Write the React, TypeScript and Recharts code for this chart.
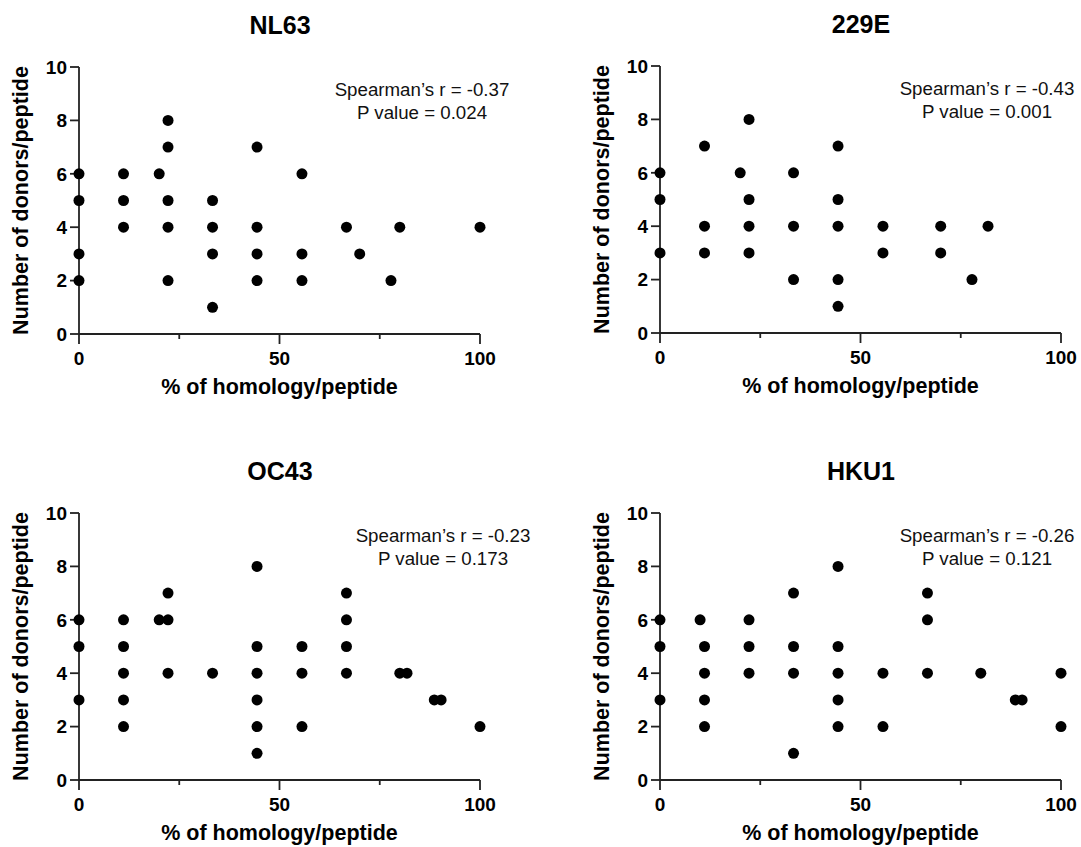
import React from 'react';
import { Scatter, ScatterChart, XAxis, YAxis } from 'recharts';

// % of homology per peptide (x) and number of donors per peptide (y)
const nl63Homology = [0, 0, 0, 0, 11.1, 11.1, 11.1, 20, 22.2, 22.2, 22.2, 22.2, 22.2, 33.3, 33.3, 33.3, 33.3, 44.4, 44.4, 44.4, 44.4, 55.6, 55.6, 55.6, 66.7, 70, 77.8, 80, 100];
const nl63Donors = [6, 5, 3, 2, 6, 5, 4, 6, 8, 7, 5, 4, 2, 5, 4, 3, 1, 7, 4, 3, 2, 6, 3, 2, 4, 3, 2, 4, 4];

const e229Homology = [0, 0, 0, 11.1, 11.1, 11.1, 20, 22.2, 22.2, 22.2, 22.2, 33.3, 33.3, 33.3, 44.4, 44.4, 44.4, 44.4, 44.4, 55.6, 55.6, 70, 70, 77.8, 81.8];
const e229Donors = [6, 5, 3, 7, 4, 3, 6, 8, 5, 4, 3, 6, 4, 2, 7, 5, 4, 2, 1, 4, 3, 4, 3, 2, 4];

const oc43Homology = [0, 0, 0, 11.1, 11.1, 11.1, 11.1, 11.1, 20, 22.2, 22.2, 22.2, 33.3, 44.4, 44.4, 44.4, 44.4, 44.4, 44.4, 55.6, 55.6, 55.6, 66.7, 66.7, 66.7, 66.7, 80, 81.8, 88.6, 90.3, 100];
const oc43Donors = [6, 5, 3, 6, 5, 4, 3, 2, 6, 7, 6, 4, 4, 8, 5, 4, 3, 2, 1, 5, 4, 2, 7, 6, 5, 4, 4, 4, 3, 3, 2];

const hku1Homology = [0, 0, 0, 10, 11.1, 11.1, 11.1, 11.1, 22.2, 22.2, 22.2, 33.3, 33.3, 33.3, 33.3, 44.4, 44.4, 44.4, 44.4, 44.4, 55.6, 55.6, 66.7, 66.7, 66.7, 80, 88.6, 90.3, 100, 100];
const hku1Donors = [6, 5, 3, 6, 5, 4, 3, 2, 6, 5, 4, 7, 5, 4, 1, 8, 5, 4, 3, 2, 4, 2, 7, 6, 4, 4, 3, 3, 4, 2];

const xTicks = [0, 25, 50, 75, 100];
const yTicks = [0, 2, 4, 6, 8, 10];

const AXIS = '#222';
const FONT = 'Arial, "Liberation Sans", sans-serif';

const toPoints = (xs: number[], ys: number[]) => xs.map((x, i) => ({ x, y: ys[i] }));

// major ticks (0/50/100) get a label, minor ones (25/75) only a short mark
const XTick = (props: any) => {
  const { x, y, payload } = props;
  const major = payload.value % 50 === 0;
  return (
    <g>
      <line x1={x} x2={x} y1={y} y2={y + (major ? 10 : 5)} stroke={AXIS} strokeWidth={1.8} />
      {major && (
        <text x={x} y={y + 24} dy="0.355em" textAnchor="middle" fontSize={19} fontWeight={700} fill="#000">
          {payload.value}
        </text>
      )}
    </g>
  );
};

interface PanelProps {
  title: string;
  r: string;
  p: string;
  xs: number[];
  ys: number[];
  left: number;
  top: number;
  width: number;
  noteX: number;
}

function Panel({ title, r, p, xs, ys, left, top, width, noteX }: PanelProps) {
  const data = toPoints(xs, ys);
  return (
    <div style={{ position: 'absolute', left, top }}>
      <ScatterChart width={width} height={404} margin={{ top: 67, right: width - 480, bottom: 0, left: 0 }}>
        <text x={280} y={34} textAnchor="middle" fontSize={25} fontWeight={700} fill="#000">
          {title}
        </text>
        <text x={noteX} y={96} textAnchor="middle" fontSize={18.7} fill="#111">
          {`Spearman\u2019s r = ${r}`}
        </text>
        <text x={noteX} y={119} textAnchor="middle" fontSize={18.7} fill="#111">
          {`P value = ${p}`}
        </text>
        <XAxis
          dataKey="x"
          type="number"
          domain={[0, 100]}
          ticks={xTicks}
          interval={0}
          height={70}
          tickSize={0}
          tickMargin={0}
          tickLine={false}
          axisLine={{ stroke: AXIS, strokeWidth: 1.8 }}
          tick={XTick}
          label={{
            value: '% of homology/peptide',
            position: 'insideBottom',
            offset: 10,
            fontSize: 21.5,
            fontWeight: 700,
            fill: '#000',
          }}
        />
        <YAxis
          dataKey="y"
          type="number"
          domain={[0, 10]}
          ticks={yTicks}
          interval={0}
          width={79}
          tickSize={9}
          tickMargin={3}
          axisLine={{ stroke: AXIS, strokeWidth: 1.8 }}
          tickLine={{ stroke: AXIS, strokeWidth: 1.8 }}
          tick={{ fontSize: 19, fontWeight: 700, fill: '#000' }}
          label={{
            value: 'Number of donors/peptide',
            angle: -90,
            position: 'insideLeft',
            offset: 20,
            fontSize: 21.5,
            fontWeight: 700,
            fill: '#000',
            style: { textAnchor: 'middle' },
          }}
        />
        <Scatter
          data={data}
          isAnimationActive={false}
          shape={(s: any) => <circle cx={s.cx} cy={s.cy} r={5.5} fill="#000" />}
        />
      </ScatterChart>
    </div>
  );
}

export default function App() {
  return (
    <div
      style={{
        position: 'absolute',
        left: 0,
        top: 0,
        width: 1081,
        height: 847,
        overflow: 'hidden',
        background: '#fff',
        fontFamily: FONT,
      }}
    >
      <Panel title="NL63" r="-0.37" p="0.024" xs={nl63Homology} ys={nl63Donors} left={0} top={0} width={540} noteX={422} />
      <Panel title="229E" r="-0.43" p="0.001" xs={e229Homology} ys={e229Donors} left={581} top={-1} width={500} noteX={406} />
      <Panel title="OC43" r="-0.23" p="0.173" xs={oc43Homology} ys={oc43Donors} left={0} top={446} width={540} noteX={443} />
      <Panel title="HKU1" r="-0.26" p="0.121" xs={hku1Homology} ys={hku1Donors} left={581} top={446} width={500} noteX={406} />
    </div>
  );
}
